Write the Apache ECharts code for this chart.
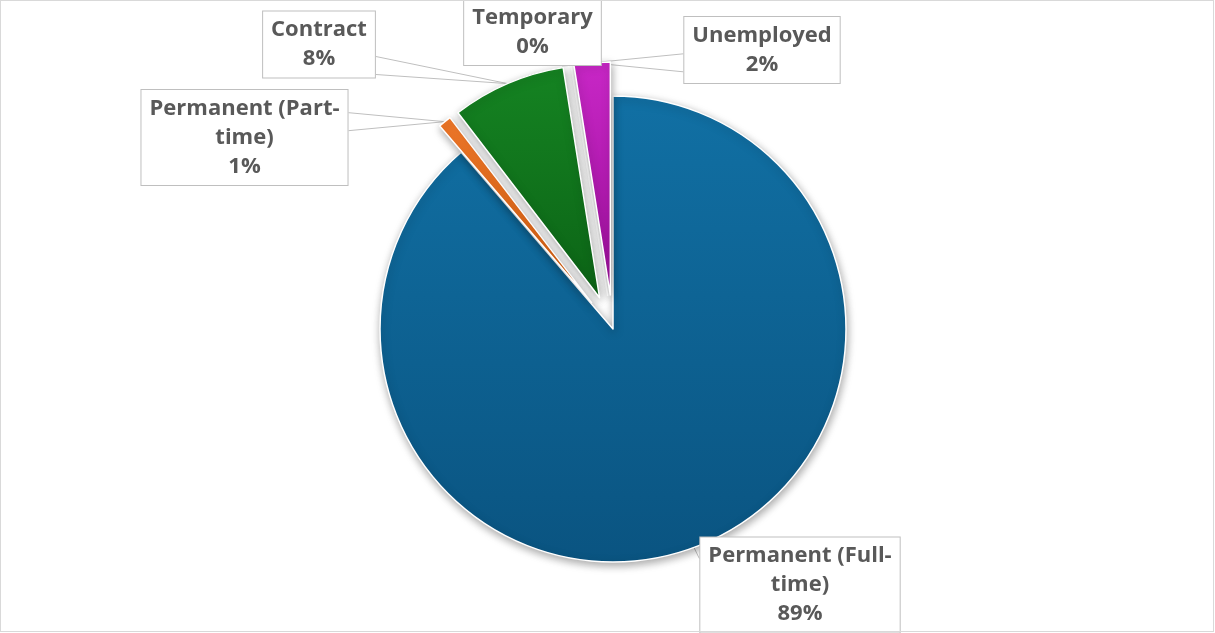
<!DOCTYPE html>
<html>
<head>
<meta charset="utf-8">
<script src="https://cdn.jsdelivr.net/npm/echarts@6/dist/echarts.min.js"></script>
<style>
  html, body { margin: 0; padding: 0; background: #ffffff; }
  #chart { position: absolute; left: 0; top: 0; width: 1215px; height: 633px; }
  #frame { position: absolute; left: 0; top: 0; width: 1212px; height: 630px;
           border: 1px solid #d9d9d9; pointer-events: none; }
</style>
</head>
<body>
<div id="chart"></div>
<div id="frame"></div>
<script>
// Employment status of respondents (share of total, %)
const categories = ['Permanent (Full-time)', 'Permanent (Part-time)', 'Contract', 'Temporary', 'Unemployed'];
const shares = [88.7, 0.9, 7.9, 0, 2.5];
// slices pulled out from the centre
const exploded = [false, true, true, true, true];

// pie geometry
const PIE_CENTRE = [613, 329];
const PIE_RADIUS = 233;
const EXPLODE_DIST = 34;
const WEDGE_HALF = 9;

// fill of each slice: top colour, bottom colour
const sliceColors = [
  ['#1170a4', '#0a5481'],
  ['#f47a2a', '#d9600f'],
  ['#158322', '#0c6416'],
  ['#a5a5a5', '#8a8a8a'],
  ['#c827c6', '#9c0f9b']
];
// centre of each callout box (px)
const labelCentres = [[800, 585], [244.5, 137.5], [319, 44.5], [532.5, 32], [762, 50]];

function wrapName(name) {
  return name.length > 14 ? name.replace('-', '-\n') : name;
}

const total = shares.reduce((a, b) => a + b, 0);

// Callout wedge: from a short base on the box side facing the slice to the slice's arc midpoint.
function wedgePoints(box, tip) {
  const clamp = (v, lo, hi) => Math.max(lo, Math.min(hi, v));
  let a, b;
  if (tip[0] < box.x || tip[0] > box.x + box.w) {
    const sx = tip[0] < box.x ? box.x : box.x + box.w;
    const c = clamp(tip[1], box.y + WEDGE_HALF + 4, box.y + box.h - WEDGE_HALF - 4);
    a = [sx, c - WEDGE_HALF]; b = [sx, c + WEDGE_HALF];
  } else {
    const sy = tip[1] < box.y ? box.y : box.y + box.h;
    const c = clamp(tip[0], box.x + WEDGE_HALF + 4, box.x + box.w - WEDGE_HALF - 4);
    a = [c - WEDGE_HALF, sy]; b = [c + WEDGE_HALF, sy];
  }
  return [a, tip, b];
}

// Each slice gets its own pie layer: the full data keeps the angles right,
// the other slices are left transparent, and the layer centre is pushed
// out along the slice's mid angle when the slice is exploded.
function sliceLayer(k) {
  let before = 0;
  for (let i = 0; i < k; i++) before += shares[i];
  const midRad = 2 * Math.PI * (before + shares[k] / 2) / total; // clockwise from 12 o'clock
  const d = exploded[k] ? EXPLODE_DIST : 0;
  const cx = PIE_CENTRE[0] + Math.sin(midRad) * d;
  const cy = PIE_CENTRE[1] - Math.cos(midRad) * d;
  const tip = [cx + Math.sin(midRad) * PIE_RADIUS, cy - Math.cos(midRad) * PIE_RADIUS];

  const data = categories.map((name, i) => {
    if (i !== k) {
      return {
        name: name, value: shares[i],
        itemStyle: { color: 'transparent', borderWidth: 0, shadowBlur: 0, shadowColor: 'transparent' },
        label: { show: false }, labelLine: { show: false }
      };
    }
    return {
      name: name, value: shares[i],
      itemStyle: {
        color: {
          type: 'linear', x: 0, y: 0, x2: 0, y2: 1,
          colorStops: [
            { offset: 0, color: sliceColors[i][0] },
            { offset: 1, color: sliceColors[i][1] }
          ]
        }
      }
    };
  });

  return {
    type: 'pie',
    name: categories[k],
    center: [cx, cy],
    radius: [0, PIE_RADIUS],
    startAngle: 90,
    clockwise: true,
    avoidLabelOverlap: false,
    percentPrecision: 0,
    emphasis: { disabled: true },
    itemStyle: {
      borderColor: '#ffffff',
      borderWidth: 1.5,
      shadowBlur: 8,
      shadowOffsetX: 1,
      shadowOffsetY: 3,
      shadowColor: 'rgba(0,0,0,0.35)'
    },
    label: {
      show: true,
      position: 'outside',
      formatter: p => wrapName(p.name) + '\n' + p.percent + '%',
      fontFamily: '"Open Sans", sans-serif',
      fontWeight: 'bold',
      fontSize: 22,
      lineHeight: 29,
      color: '#595959',
      align: 'center',
      backgroundColor: '#ffffff',
      borderColor: '#bfbfbf',
      borderWidth: 1,
      padding: [7, 8, 1, 8]
    },
    labelLine: {
      show: true,
      length: 10,
      length2: 0,
      lineStyle: { color: '#bfbfbf', width: 1 }
    },
    labelLayout: p => {
      const c = labelCentres[p.dataIndex];
      const w = p.labelRect.width, h = p.labelRect.height;
      const box = { x: c[0] - w / 2, y: c[1] - h / 2, w: w, h: h };
      return {
        x: c[0], y: c[1], align: 'center', verticalAlign: 'middle',
        labelLinePoints: wedgePoints(box, tip)
      };
    },
    data: data
  };
}

const chart = echarts.init(document.getElementById('chart'), null, { renderer: 'canvas' });
chart.setOption({
  animation: false,
  backgroundColor: 'transparent',
  series: categories.map((_, k) => sliceLayer(k))
});
</script>
</body>
</html>
